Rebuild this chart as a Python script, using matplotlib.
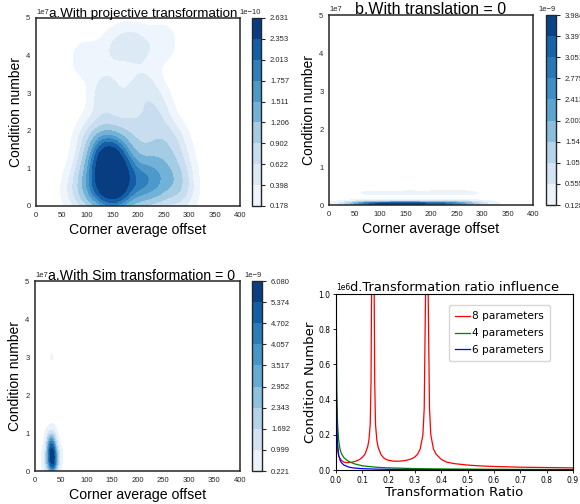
import numpy as np
import matplotlib
matplotlib.use("Agg")
import matplotlib.pyplot as plt

# ---- panel a: projective transformation (offset, condition number / 1e7)
offset_a = [130, 140, 135, 128, 145, 150, 148, 152, 158, 160, 165, 170, 155, 142,
            195, 210, 225, 238, 205,
            100, 110, 95, 120, 115, 125, 175, 180, 170, 200, 220, 250, 262, 275, 285,
            245, 130, 75, 290, 160, 230, 140,
            100, 125, 150, 175, 200, 225, 250, 275,
            135, 138, 190, 240, 215,
            95, 205, 250, 150, 180]
cond_a = [0.3, 0.6, 1.0, 1.25, 0.2, 0.45, 0.8, 1.1, 1.3, 0.35, 0.7, 1.0, 0.6, 1.35,
          0.7, 0.9, 0.6, 0.85, 0.5,
          0.3, 0.7, 1.0, 1.2, 0.2, 0.6, 0.3, 1.0, 1.4, 0.15, 1.2, 0.4, 0.9, 0.5, 1.0,
          1.4, 1.45, 0.4, 0.3, 0.1, 0.25, 1.5,
          1.8, 2.0, 1.7, 2.1, 1.8, 2.2, 1.9, 1.7,
          2.8, 3.1, 2.9, 2.7, 3.2,
          3.9, 4.2, 4.35, 4.15, 4.35]
levels_a = [0.178, 0.398, 0.622, 0.902, 1.206, 1.511, 1.757, 2.013, 2.353, 2.631]  # x1e-10

# ---- panel b: translation = 0
offset_b = [40, 46, 52, 57, 62, 66, 70, 74, 78, 82, 86, 90, 94,
            98, 101, 105, 108, 112, 115, 119, 122, 126, 129, 133, 136, 140,
            143, 147, 150, 154, 157, 161, 164, 168, 171,
            176, 180, 184, 188, 192, 196, 200, 204, 208, 212, 216, 220, 224, 228, 232,
            236, 240, 245, 250, 255, 260, 266, 272, 279, 286, 295,
            90, 155, 215, 265]
cond_b = [0.03, 0.02, 0.04, 0.03, 0.01, 0.03, 0.05, 0.02, 0.03, 0.04, 0.03, 0.02, 0.03,
          0.03, 0.02, 0.03, 0.04, 0.01, 0.02, 0.03, 0.04, 0.02, 0.03, 0.03, 0.02, 0.04,
          0.03, 0.02, 0.03, 0.04, 0.02, 0.03, 0.02, 0.04, 0.03,
          0.03, 0.04, 0.02, 0.03, 0.05, 0.02, 0.03, 0.04, 0.02, 0.03, 0.05, 0.03, 0.02,
          0.04, 0.03, 0.02, 0.04, 0.03, 0.05, 0.03, 0.02, 0.04, 0.03, 0.05, 0.03, 0.04,
          0.32, 0.32, 0.32, 0.32]
levels_b = [0.128, 0.555, 1.058, 1.546, 2.003, 2.413, 2.775, 3.051, 3.397, 3.984]  # x1e-9

# ---- panel c: Sim transformation = 0
offset_c = [33, 34, 30, 33, 36, 31, 29, 34, 32, 37, 33, 30, 35, 34, 29, 35, 31, 37, 34, 33,
            32, 36, 34, 30, 35, 33, 28, 34, 38, 30, 36, 33, 29, 37, 32, 34, 33, 31, 35, 33,
            28, 38, 26, 40, 24, 42, 33, 33, 30, 36, 22, 44, 27, 39, 33, 31, 35, 20, 46, 33]
cond_c = [0.30, 0.22, 0.38, 0.45, 0.15, 0.55, 0.28, 0.63, 0.10, 0.48, 0.62, 0.72, 0.40,
          0.06, 0.58, 0.05, 0.18, 0.35, 0.02, 0.66, 0.42, 0.12, 0.52, 0.78, 0.24, 0.08,
          0.68, 0.82, 0.44, 0.31, 0.76, 0.60, 0.85, 0.27, 0.14, 0.50, 0.75, 0.70, 0.04,
          0.90, 0.35, 0.28, 0.45, 0.32, 0.25, 0.30, 0.95, 0.02, 0.58, 0.50, 0.30, 0.35,
          0.20, 0.40, 0.68, 0.80, 0.15, 0.25, 0.40, 3.0]
levels_c = [0.221, 0.999, 1.692, 2.343, 2.952, 3.517, 4.057, 4.702, 5.374, 6.080]  # x1e-9

# ---- panel d: transformation ratio influence (condition number / 1e6)
ratio_8 = [0.0, 0.003, 0.006, 0.01, 0.02, 0.03, 0.04, 0.05, 0.06, 0.07, 0.08, 0.09,
           0.10, 0.11, 0.12, 0.125, 0.13, 0.133, 0.135, 0.14, 0.145, 0.147, 0.15,
           0.155, 0.16, 0.17, 0.18, 0.19, 0.20, 0.22, 0.24, 0.26, 0.28, 0.29, 0.30,
           0.31, 0.32, 0.33, 0.335, 0.34, 0.345, 0.35, 0.355, 0.36, 0.37, 0.38,
           0.40, 0.42, 0.45, 0.50, 0.55, 0.60, 0.70, 0.80, 0.90]
cond_8 = [0.37, 0.20, 0.12, 0.08, 0.055, 0.045, 0.042, 0.042, 0.044, 0.048, 0.053,
          0.060, 0.072, 0.09, 0.13, 0.17, 0.26, 0.5, 1.0, 3.0, 1.0, 0.5, 0.26,
          0.17, 0.13, 0.09, 0.07, 0.06, 0.055, 0.05, 0.05, 0.053, 0.06, 0.066, 0.075,
          0.09, 0.12, 0.2, 0.35, 1.0, 3.0, 1.0, 0.35, 0.2, 0.12, 0.09,
          0.06, 0.045, 0.036, 0.028, 0.023, 0.02, 0.016, 0.014, 0.012]
ratio_4 = [0.0, 0.003, 0.006, 0.01, 0.015, 0.02, 0.03, 0.04, 0.05, 0.07, 0.1, 0.15,
           0.2, 0.3, 0.4, 0.5, 0.6, 0.7, 0.8, 0.9]
cond_4 = [1.2, 0.45, 0.26, 0.17, 0.12, 0.095, 0.07, 0.057, 0.047, 0.035, 0.024,
          0.016, 0.012, 0.008, 0.006, 0.005, 0.004, 0.0035, 0.003, 0.0027]
ratio_6 = [0.0, 0.002, 0.004, 0.006, 0.01, 0.015, 0.02, 0.03, 0.05, 0.07, 0.1, 0.15,
           0.2, 0.3, 0.5, 0.7, 0.9]
cond_6 = [0.96, 0.4, 0.22, 0.15, 0.085, 0.058, 0.043, 0.028, 0.016, 0.011, 0.0075,
          0.005, 0.0037, 0.0025, 0.0015, 0.001, 0.0008]

W, H = 580, 504
ARIAL = "Liberation Sans"
GREY = "#262626"


def px_axes(fig, x0, y0, x1, y1):
    return fig.add_axes([x0 / W, 1 - y1 / H, (x1 - x0) / W, (y1 - y0) / H])


def kde(xs, ys, bx, by, n=200, cut=3):
    xs = np.asarray(xs, float)
    ys = np.asarray(ys, float)
    gx = np.linspace(xs.min() - cut * bx, xs.max() + cut * bx, n)
    gy = np.linspace(ys.min() - cut * by, ys.max() + cut * by, n)
    X, Y = np.meshgrid(gx, gy)
    Z = np.zeros_like(X)
    for px, py in zip(xs, ys):
        Z += np.exp(-0.5 * (((X - px) / bx) ** 2 + ((Y - py) / by) ** 2))
    Z /= 2 * np.pi * bx * by * len(xs)
    return X, Y, Z


def kde_panel(fig, box, cbox, xs, ys, levels, scale, bx, by, title, tsize, tx=0.5):
    ax = px_axes(fig, *box)
    cax = px_axes(fig, *cbox)
    ys = np.asarray(ys) * 1e7
    X, Y, Z = kde(xs, ys, bx, by)
    lv = np.asarray(levels) * scale
    # densest cells go into the top band
    Z = np.minimum(Z, lv[-1] * 0.9999)
    cs = ax.contourf(X, Y, Z, levels=lv, cmap="Blues")
    ax.set_xlim(0, 400)
    ax.set_ylim(0, 5e7)
    ax.set_xticks(range(0, 401, 50))
    ax.set_yticks(np.arange(0, 5.1, 1) * 1e7)
    ax.tick_params(length=0, labelsize=5.5, labelcolor=GREY, pad=4)
    for lab in ax.get_xticklabels() + ax.get_yticklabels():
        lab.set_fontfamily(ARIAL)
    ax.yaxis.get_offset_text().set_fontsize(5.5)
    ax.yaxis.get_offset_text().set_fontfamily(ARIAL)
    for sp in ax.spines.values():
        sp.set_color(GREY)
        sp.set_linewidth(1.1)
    ax.set_xlabel("Corner average offset", fontsize=10.2, fontfamily=ARIAL, labelpad=3)
    ax.set_ylabel("Condition number", fontsize=10, fontfamily=ARIAL, labelpad=2)
    ax.set_title(title, fontsize=tsize, fontfamily=ARIAL, pad=1, x=tx, y=1.0)
    cb = fig.colorbar(cs, cax=cax)
    cb.ax.tick_params(length=3, width=0.8, labelsize=5.5, labelcolor=GREY, color=GREY)
    for lab in cb.ax.get_yticklabels():
        lab.set_fontfamily(ARIAL)
    cb.ax.yaxis.get_offset_text().set_fontsize(5.5)
    cb.ax.yaxis.get_offset_text().set_fontfamily(ARIAL)
    cb.outline.set_edgecolor(GREY)
    cb.outline.set_linewidth(1.0)
    return ax


fig = plt.figure(figsize=(W / 100, H / 100), dpi=100)

kde_panel(fig, (36, 18, 240, 206), (252, 18, 261, 206), offset_a, cond_a,
          levels_a, 1e-10, 22, 0.42e7, "a.With projective transformation", 9.6, 0.525)
kde_panel(fig, (329, 15, 533, 205), (546, 15, 556, 205), offset_b, cond_b,
          levels_b, 1e-9, 25, 0.045e7, "b.With translation = 0", 11.5)
kde_panel(fig, (35, 281, 240, 471), (252, 281, 262, 471), offset_c, cond_c,
          levels_c, 1e-9, 6, 0.19e7, "a.With Sim transformation = 0", 10.2, 0.52)

# ---- panel d
ax = px_axes(fig, 336, 294, 573, 470)
ax.plot(ratio_8, np.asarray(cond_8) * 1e6, color="red", lw=0.9, label="8 parameters")
ax.plot(ratio_4, np.asarray(cond_4) * 1e6, color="green", lw=0.9, label="4 parameters")
ax.plot(ratio_6, np.asarray(cond_6) * 1e6, color="blue", lw=0.9, label="6 parameters")
ax.set_xlim(0, 0.9)
ax.set_ylim(0, 1e6)
ax.set_xticks(np.arange(0, 0.91, 0.1))
ax.tick_params(labelsize=5.5, length=2.5, width=0.6, pad=1.5)
ax.yaxis.get_offset_text().set_fontsize(5.5)
ax.set_xlabel("Transformation Ratio", fontsize=9.5, labelpad=1)
ax.set_ylabel("Condition Number", fontsize=9.5, labelpad=1)
ax.set_title("d.Transformation ratio influence", fontsize=9.4, pad=2, y=1.0)
ax.legend(loc="upper right", bbox_to_anchor=(0.903, 0.9375), borderaxespad=0,
          fontsize=7.6, handlelength=1.4, handletextpad=0.2, borderpad=0.6,
          labelspacing=0.65)

fig.savefig("out.png", dpi=100)
